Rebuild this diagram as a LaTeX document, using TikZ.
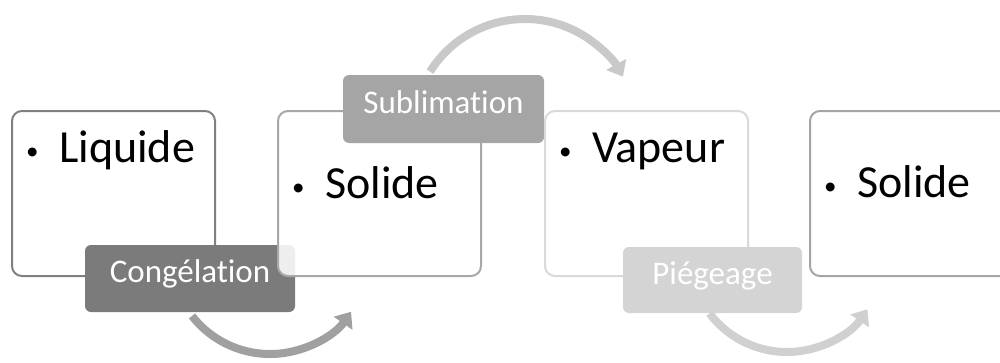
\documentclass[tikz,border=0pt]{standalone}
\usepackage{fontspec}
\setmainfont{Carlito}[Ligatures=NoCommon]
\usetikzlibrary{arrows.meta,calc}
\definecolor{bA}{HTML}{808080}
\definecolor{bB}{HTML}{A8A8A8}
\definecolor{bC}{HTML}{D9D9D9}
\definecolor{bD}{HTML}{A5A5A5}
\definecolor{lA}{HTML}{7B7B7B}
\definecolor{lB}{HTML}{A5A5A5}
\definecolor{lC}{HTML}{D4D4D4}
\definecolor{aA}{HTML}{A0A0A0}
\definecolor{aB}{HTML}{C9C9C9}
\definecolor{aC}{HTML}{D0D0D0}
\newcommand{\blt}{\makebox[35pt][l]{\hspace{2pt}\raisebox{3pt}{\fontsize{25pt}{25pt}\selectfont •}}}
\tikzset{
  statebox/.style={draw, line width=2pt, rounded corners=10pt, fill=white, fill opacity=0.88,
    minimum width=203pt, minimum height=165pt, inner sep=0pt, anchor=north west},
  labelbox/.style={rounded corners=6pt, text=white, inner sep=0pt,
    font=\fontsize{33pt}{36pt}\selectfont, text height=20pt, text depth=12pt},
  statetext/.style={anchor=base west, inner sep=0pt, font=\fontsize{46pt}{50pt}\selectfont},
  curvearrow/.style={line width=8pt, -{Triangle[width=22pt,length=14pt]}}
}
\begin{document}
\begin{tikzpicture}[x=1pt,y=-1pt]
\useasboundingbox (0,0) rectangle (1000,362);
\clip (0,0) rectangle (1000,362);
% arrows
\coordinate (c1) at (270,255);
\coordinate (c2) at (525,131);
\coordinate (c3) at (787,255);
\draw[curvearrow, aA] ($(c1)+(142:99)$) coordinate (a1s) arc[start angle=142, end angle=35, radius=99];
\draw[curvearrow, aB] ($(c2)+(-148:112)$) coordinate (a2s) arc[start angle=-148, end angle=-29, radius=112];
\draw[curvearrow, aC] ($(c3)+(143:97)$) coordinate (a3s) arc[start angle=143, end angle=34, radius=97];
% boxes and labels
\node[statebox, draw=bA] (b1) at (11,110) {};
\node[statetext] (t1) at (24,162) {\blt Liquide};
\node[labelbox, fill=lA, minimum width=210pt, minimum height=67pt] (l1) at (190,278.5) {Congélation};
\node[statebox, draw=bB] (b2) at (277,110) {};
\node[statetext] (t2) at (290,198) {\blt Solide};
\node[labelbox, fill=lB, minimum width=201pt, minimum height=68pt] (l2) at (443.5,109) {Sublimation};
\node[statebox, draw=bC] (b3) at (544,110) {};
\node[statetext] (t3) at (557,162) {\blt Vapeur};
\node[labelbox, fill=lC, minimum width=179pt, minimum height=66pt] (l3) at (712.5,280) {Piégeage};
\node[statebox, draw=bD] (b4) at (809,110) {};
\node[statetext] (t4) at (822,197) {\blt Solide};
\end{tikzpicture}
\end{document}
